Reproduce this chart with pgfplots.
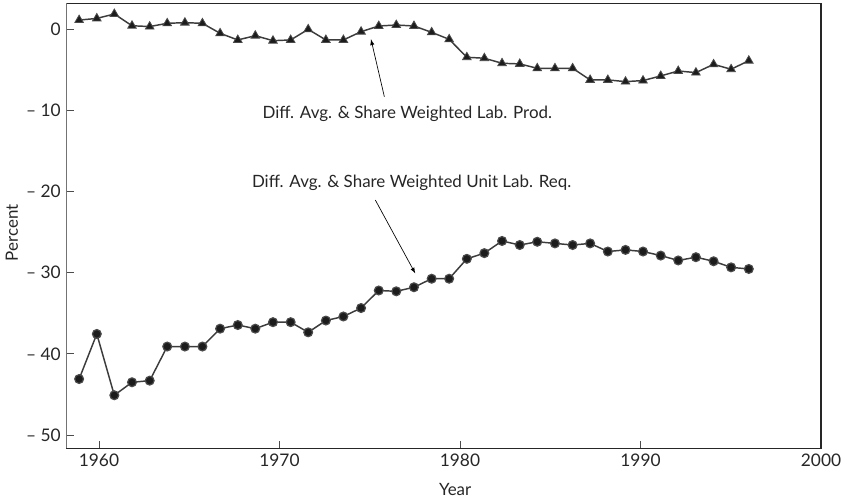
\documentclass[border=0pt]{standalone}
\usepackage{pgfplots}
\pgfplotsset{compat=1.18}
\usepackage{pgfplotstable}
\usepackage{fontspec}
\setmainfont{Lato}
\definecolor{lc}{HTML}{3C3C3C}
\definecolor{mf}{HTML}{1C1C1C}
\definecolor{me}{HTML}{4A4A4A}
\pgfplotstableread{
x y
1958.90 1.10
1959.88 1.30
1960.85 1.85
1961.83 0.40
1962.81 0.30
1963.78 0.70
1964.76 0.78
1965.73 0.70
1966.71 -0.53
1967.69 -1.35
1968.66 -0.82
1969.64 -1.44
1970.62 -1.35
1971.59 -0.04
1972.57 -1.35
1973.54 -1.35
1974.52 -0.33
1975.50 0.37
1976.47 0.49
1977.45 0.37
1978.43 -0.41
1979.40 -1.27
1980.38 -3.48
1981.35 -3.60
1982.33 -4.22
1983.31 -4.30
1984.28 -4.84
1985.26 -4.84
1986.24 -4.84
1987.21 -6.27
1988.19 -6.27
1989.17 -6.48
1990.14 -6.35
1991.12 -5.78
1992.09 -5.17
1993.07 -5.37
1994.05 -4.35
1995.02 -4.96
1996.00 -3.90
}\prod
\pgfplotstableread{
x y
1958.90 -43.1
1959.88 -37.55
1960.85 -45.1
1961.83 -43.5
1962.81 -43.3
1963.78 -39.1
1964.76 -39.1
1965.73 -39.1
1966.71 -36.9
1967.69 -36.45
1968.66 -36.9
1969.64 -36.1
1970.62 -36.1
1971.59 -37.35
1972.57 -35.9
1973.54 -35.4
1974.52 -34.36
1975.50 -32.2
1976.47 -32.3
1977.45 -31.8
1978.43 -30.75
1979.40 -30.75
1980.38 -28.3
1981.35 -27.6
1982.33 -26.1
1983.31 -26.6
1984.28 -26.2
1985.26 -26.4
1986.24 -26.6
1987.21 -26.4
1988.19 -27.4
1989.17 -27.2
1990.14 -27.4
1991.12 -27.9
1992.09 -28.5
1993.07 -28.1
1994.05 -28.6
1995.02 -29.35
1996.00 -29.55
}\req
\begin{document}
\fontsize{12.7}{15}\selectfont
\begin{tikzpicture}
\begin{axis}[
  name=ax,
  scale only axis, width=565.7pt, height=333.75pt,
  xmin=1958.21, xmax=2000, ymin=-51.64, ymax=3.16,
  xtick={1960,1970,1980,1990,2000},
  ytick={-50,-40,-30,-20,-10,0},
  yticklabels={– 50,– 40,– 30,– 20,– 10,0},
  /pgf/number format/assume math mode=true,
  xticklabel style={/pgf/number format/1000 sep={}},
  tick label style={font=\fontsize{13}{15}\selectfont, text=black!85},
  label style={font=\fontsize{12.7}{15}\selectfont, text=black!85},
  xlabel style={at={(axis description cs:0.515,0)}, anchor=base, yshift=-35pt},
  ylabel style={at={(axis description cs:-0.0725,0.484)}, anchor=center},
  tick align=inside, xtick pos=bottom, ytick pos=left,
  major tick length=5.3pt,
  tick style={black!70, line width=0.6pt},
  axis line style={black!85, line width=0.9pt},
  xlabel={Year}, ylabel={Percent},
  clip=false,
]
\addplot[lc, line width=1.1pt, mark=triangle*, mark size=3.7pt,
  mark options={fill=mf, draw=me, line width=0.6pt}] table {\prod};
\addplot[lc, line width=1.1pt, mark=*, mark size=3.3pt,
  mark options={fill=mf, draw=me, line width=0.9pt}] table {\req};
\draw[black!55, line width=0.9pt] (rel axis cs:0,0) -- (rel axis cs:0,1);
\node[text=black!85] at (axis cs:1977.08,-10.47) {Diff. Avg. \& Share Weighted Lab. Prod.};
\node[text=black!85] at (axis cs:1977.32,-18.97) {Diff. Avg. \& Share Weighted Unit Lab. Req.};
\draw[-latex, line width=0.5pt] (axis cs:1975.81,-8.34) -- (axis cs:1975.07,-1.27);
\draw[-latex, line width=0.5pt] (axis cs:1975.31,-21.06) -- (axis cs:1977.52,-30.09);
\end{axis}
\pgfresetboundingbox
\path[use as bounding box] ([xshift=-50pt,yshift=-37.3pt]ax.south west) rectangle ([xshift=15pt,yshift=2.5pt]ax.north east);
\end{tikzpicture}
\end{document}
